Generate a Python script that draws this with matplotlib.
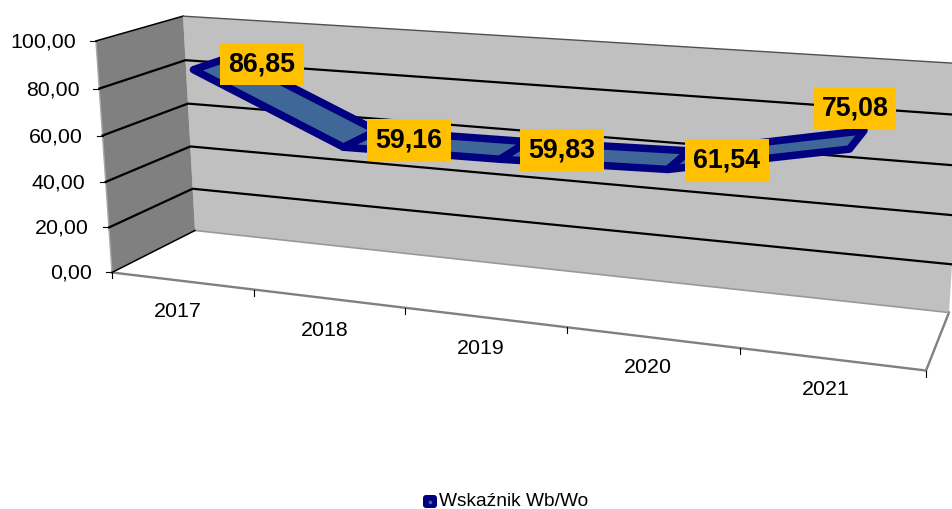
import numpy as np
import matplotlib
matplotlib.use("Agg")
import matplotlib.pyplot as plt
from matplotlib.patches import FancyBboxPatch

# dane
years = ["2017", "2018", "2019", "2020", "2021"]
values = [86.85, 59.16, 59.83, 61.54, 75.08]
value_labels = ["86,85", "59,16", "59,83", "61,54", "75,08"]
y_ticks = [0, 20, 40, 60, 80, 100]
y_tick_labels = ["0,00", "20,00", "40,00", "60,00", "80,00", "100,00"]
legend_name = "Wskaźnik Wb/Wo"

# rogi pudełka 3D na obrazku: (u, d, v/100) -> piksele
corners = [
    ((0, 0, 0), (112, 272)),
    ((0, 0, 1), (96, 41)),
    ((0, 1, 0), (195, 231)),
    ((0, 1, 1), (183, 16)),
    ((1, 0, 0), (926, 371)),
    ((1, 1, 0), (949, 312)),
    ((1, 1, 1), (965, 64)),
]

A = []
b = []
for (u, d, v), (px, py) in corners:
    A.append([u, d, v, 1, 0, 0, 0, 0, -px * u, -px * d, -px * v])
    b.append(px)
    A.append([0, 0, 0, 0, u, d, v, 1, -py * u, -py * d, -py * v])
    b.append(py)
p = np.linalg.lstsq(np.array(A, float), np.array(b, float), rcond=None)[0]


def proj(u, d, val):
    v = val / 100.0
    w = p[8] * u + p[9] * d + p[10] * v + 1
    return (p[0] * u + p[1] * d + p[2] * v + p[3]) / w, (p[4] * u + p[5] * d + p[6] * v + p[7]) / w


plt.rcParams["font.family"] = ["Liberation Sans", "DejaVu Sans"]

fig = plt.figure(figsize=(9.52, 5.09), dpi=100, facecolor="w")
ax = fig.add_axes([0, 0, 1, 1])
ax.set_xlim(0, 952)
ax.set_ylim(509, 0)
ax.axis("off")

# ściany
ax.fill(*zip(proj(0, 1, 0), proj(1, 1, 0), proj(1, 1, 100), proj(0, 1, 100)), color="#C0C0C0", lw=0, zorder=1)
ax.fill(*zip(proj(0, 0, 0), proj(0, 1, 0), proj(0, 1, 100), proj(0, 0, 100)), color="#808080", lw=0, zorder=1)
ax.plot(*zip(proj(0, 0, 0), proj(0, 0, 100)), color="#A8A8A8", lw=1.0, zorder=2)

# podłoga
ax.plot(*zip(proj(0, 0, 0), proj(1, 0, 0), proj(1, 1, 0)), color="#808080", lw=1.7, zorder=2)
ax.plot(*zip(proj(0, 1, 0), proj(1, 1, 0)), color="#999999", lw=1.2, zorder=2)
ax.plot(*zip(proj(0, 0, 0), proj(0, 1, 0)), color="black", lw=1.1, zorder=2)

# siatka
for t in y_ticks[1:]:
    if t == 100:
        ax.plot(*zip(proj(0, 0, t), proj(0, 1, t)), color="black", lw=1.1, zorder=3)
        ax.plot(*zip(proj(0, 1, t), proj(1, 1, t)), color="#505050", lw=1.0, zorder=3)
    else:
        ax.plot(*zip(proj(0, 0, t), proj(0, 1, t), proj(1, 1, t)), color="black", lw=1.6, zorder=3)

# osie
for t, lab in zip(y_ticks, y_tick_labels):
    x0, y0 = proj(0, 0, t)
    ax.plot([x0 - 6, x0], [y0, y0], color="black", lw=0.8, zorder=3)
    ax.text(x0 - 20, y0 + 1, lab, ha="right", va="center", fontsize=15.4, color="black")

for i in range(6):
    x0, y0 = proj(i / 5, 0, 0)
    ax.plot([x0, x0], [y0, y0 + 6], color="black", lw=0.8, zorder=3)

year_offsets = [(-4, 31), (-3, 32), (-4, 31), (-4, 30), (-5, 30)]
for i, y in enumerate(years):
    x0, y0 = proj((i + 0.5) / 5, 0, 0)
    ax.text(x0 + year_offsets[i][0], y0 + year_offsets[i][1], y, ha="center", va="center", fontsize=15.4, color="black")

# wstęga serii
d1, d2 = 0.27, 0.74
for i in range(len(values) - 1):
    u1, u2 = (i + 0.5) / 5, (i + 1.5) / 5
    poly = [proj(u1, d1, values[i]), proj(u2, d1, values[i + 1]), proj(u2, d2, values[i + 1]), proj(u1, d2, values[i])]
    ax.fill(*zip(*poly), facecolor="#3F6797", edgecolor="#000080", lw=5.4, joinstyle="round", zorder=4)

# etykiety danych
label_pos = [(262, 64), (409, 140), (562, 150), (727, 160), (855, 108)]
for (lx, ly), lab in zip(label_pos, value_labels):
    ax.text(lx, ly, lab, ha="center", va="center", fontsize=19.3, fontweight="bold", color="black", zorder=6,
            bbox=dict(boxstyle="square,pad=0.3", facecolor="#FFC000", edgecolor="none"))

# legenda
ax.add_patch(FancyBboxPatch((425, 497), 10, 9, boxstyle="round,pad=2,rounding_size=3",
                            facecolor="#000080", edgecolor="none", zorder=5))
ax.plot([430], [502], marker="s", ms=1.5, mfc="#3F6797", mec="#3F6797", zorder=6)
ax.text(439, 501, legend_name, ha="left", va="center", fontsize=13.8, color="black")

fig.savefig("out.png", dpi=100)
